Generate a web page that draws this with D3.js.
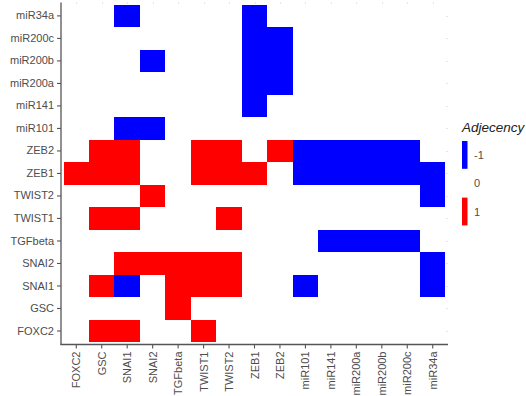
<!DOCTYPE html>
<html>
<head>
<meta charset="utf-8">
<script src="https://cdn.jsdelivr.net/npm/d3@7"></script>
<style>
  html, body { margin: 0; padding: 0; background: #fff; }
  svg { display: block; font-family: "Liberation Sans", Arial, sans-serif; }
</style>
</head>
<body>
<svg id="chart" width="526" height="396"></svg>
<script>
// Genes / miRNAs, used for both axes (x: left to right, y: bottom to top)
const genes = ["FOXC2", "GSC", "SNAI1", "SNAI2", "TGFbeta", "TWIST1", "TWIST2",
  "ZEB1", "ZEB2", "miR101", "miR141", "miR200a", "miR200b", "miR200c", "miR34a"];

// Adjacency rows, one per y gene; values follow the order of `genes` on x
const rowFOXC2   = [0, 1, 1, 0, 0, 1, 0, 0, 0, 0, 0, 0, 0, 0, 0];
const rowGSC     = [0, 0, 0, 0, 1, 0, 0, 0, 0, 0, 0, 0, 0, 0, 0];
const rowSNAI1   = [0, 1, -1, 0, 1, 1, 1, 0, 0, -1, 0, 0, 0, 0, -1];
const rowSNAI2   = [0, 0, 1, 1, 1, 1, 1, 0, 0, 0, 0, 0, 0, 0, -1];
const rowTGFbeta = [0, 0, 0, 0, 0, 0, 0, 0, 0, 0, -1, -1, -1, -1, 0];
const rowTWIST1  = [0, 1, 1, 0, 0, 0, 1, 0, 0, 0, 0, 0, 0, 0, 0];
const rowTWIST2  = [0, 0, 0, 1, 0, 0, 0, 0, 0, 0, 0, 0, 0, 0, -1];
const rowZEB1    = [1, 1, 1, 0, 0, 1, 1, 1, 0, -1, -1, -1, -1, -1, -1];
const rowZEB2    = [0, 1, 1, 0, 0, 1, 1, 0, 1, -1, -1, -1, -1, -1, 0];
const rowMiR101  = [0, 0, -1, -1, 0, 0, 0, 0, 0, 0, 0, 0, 0, 0, 0];
const rowMiR141  = [0, 0, 0, 0, 0, 0, 0, -1, 0, 0, 0, 0, 0, 0, 0];
const rowMiR200a = [0, 0, 0, 0, 0, 0, 0, -1, -1, 0, 0, 0, 0, 0, 0];
const rowMiR200b = [0, 0, 0, -1, 0, 0, 0, -1, -1, 0, 0, 0, 0, 0, 0];
const rowMiR200c = [0, 0, 0, 0, 0, 0, 0, -1, -1, 0, 0, 0, 0, 0, 0];
const rowMiR34a  = [0, 0, -1, 0, 0, 0, 0, -1, 0, 0, 0, 0, 0, 0, 0];

const adjacencyRows = [rowFOXC2, rowGSC, rowSNAI1, rowSNAI2, rowTGFbeta, rowTWIST1,
  rowTWIST2, rowZEB1, rowZEB2, rowMiR101, rowMiR141, rowMiR200a, rowMiR200b,
  rowMiR200c, rowMiR34a];

// Legend levels
const legendLevels = ["-1", "0", "1"];
const legendTitle = "Adjecency";

const fillFor = { "-1": "#0000ff", "0": "#ffffff", "1": "#ff0000" };

// Long-format cells built from the rows
const cells = [];
adjacencyRows.forEach((row, i) => {
  row.forEach((v, j) => cells.push({ x: genes[j], y: genes[i], v: v }));
});

const svg = d3.select("#chart");
const textColor = "#4d4d4d";
const axisColor = "#555555";

// Panel geometry
const panel = { left: 61, right: 448, top: 2.4, bottom: 344.5 };
const step = (panel.right - panel.left) / 15.2;
const stepY = (panel.bottom - panel.top) / 15.2;

const x = d3.scaleBand()
  .domain(genes)
  .range([panel.left + 0.1 * step, panel.right - 0.1 * step])
  .padding(0);

const y = d3.scaleBand()
  .domain(genes.slice().reverse())
  .range([panel.top + 0.1 * stepY, panel.bottom - 0.1 * stepY])
  .padding(0);

// Faint guide ticks along the top and right edges of the panel
const guides = svg.append("g").attr("stroke", "#e6e6e6").attr("stroke-width", 1);
genes.forEach(g => {
  const cx = Math.round(x(g) + x.bandwidth() / 2) + 0.5;
  guides.append("line").attr("x1", cx).attr("x2", cx).attr("y1", 2).attr("y2", 4);
  const cy = Math.round(y(g) + y.bandwidth() / 2) + 0.5;
  guides.append("line").attr("x1", panel.right - 2).attr("x2", panel.right).attr("y1", cy).attr("y2", cy);
});

// Tiles (zeros are white)
svg.append("g")
  .selectAll("rect")
  .data(cells.filter(d => d.v !== 0))
  .join("rect")
  .attr("x", d => x(d.x))
  .attr("y", d => y(d.y))
  .attr("width", x.bandwidth())
  .attr("height", y.bandwidth())
  .attr("fill", d => fillFor[String(d.v)])
  .attr("shape-rendering", "crispEdges");

// Bottom axis
const xAxis = svg.append("g")
  .attr("transform", `translate(0,${panel.bottom})`)
  .call(d3.axisBottom(x).tickSize(4).tickSizeOuter(0).tickPadding(3));
xAxis.select(".domain").remove();
xAxis.selectAll(".tick line").attr("stroke", axisColor).attr("stroke-width", 1.1);
xAxis.selectAll(".tick text")
  .attr("fill", textColor)
  .attr("font-size", 11)
  .attr("font-family", "Liberation Sans, Arial, sans-serif")
  .attr("text-anchor", "end")
  .attr("dominant-baseline", "central")
  .attr("dy", null)
  .attr("transform", "rotate(-90)")
  .attr("x", -7)
  .attr("y", 0);

// Left axis
const yAxis = svg.append("g")
  .attr("transform", `translate(${panel.left},0)`)
  .call(d3.axisLeft(y).tickSize(4).tickSizeOuter(0).tickPadding(3));
yAxis.select(".domain").remove();
yAxis.selectAll(".tick line").attr("stroke", axisColor).attr("stroke-width", 1.1);
yAxis.selectAll(".tick text")
  .attr("fill", textColor)
  .attr("font-size", 11)
  .attr("font-family", "Liberation Sans, Arial, sans-serif");

// Axis lines
svg.append("line")
  .attr("x1", panel.left).attr("x2", panel.left)
  .attr("y1", panel.top).attr("y2", panel.bottom + 0.5)
  .attr("stroke", axisColor).attr("stroke-width", 1.3);
svg.append("line")
  .attr("x1", panel.left - 0.5).attr("x2", panel.right)
  .attr("y1", panel.bottom).attr("y2", panel.bottom)
  .attr("stroke", axisColor).attr("stroke-width", 1.3);

// Legend
const legend = svg.append("g").attr("transform", "translate(462,0)");
legend.append("text")
  .attr("x", 0).attr("y", 132)
  .attr("font-size", 13.5)
  .attr("font-style", "italic")
  .attr("fill", "#222")
  .text(legendTitle);

const keyTop = 141, keyH = 28.3, keyW = 5.5;
legendLevels.forEach((lvl, i) => {
  const ky = keyTop + i * keyH;
  legend.append("rect")
    .attr("x", 0).attr("y", ky)
    .attr("width", keyW).attr("height", keyH - 0.5)
    .attr("fill", fillFor[lvl]);
  legend.append("text")
    .attr("x", 12).attr("y", ky + keyH / 2)
    .attr("dominant-baseline", "central")
    .attr("font-size", 11)
    .attr("fill", textColor)
    .text(lvl);
});
</script>
</body>
</html>
